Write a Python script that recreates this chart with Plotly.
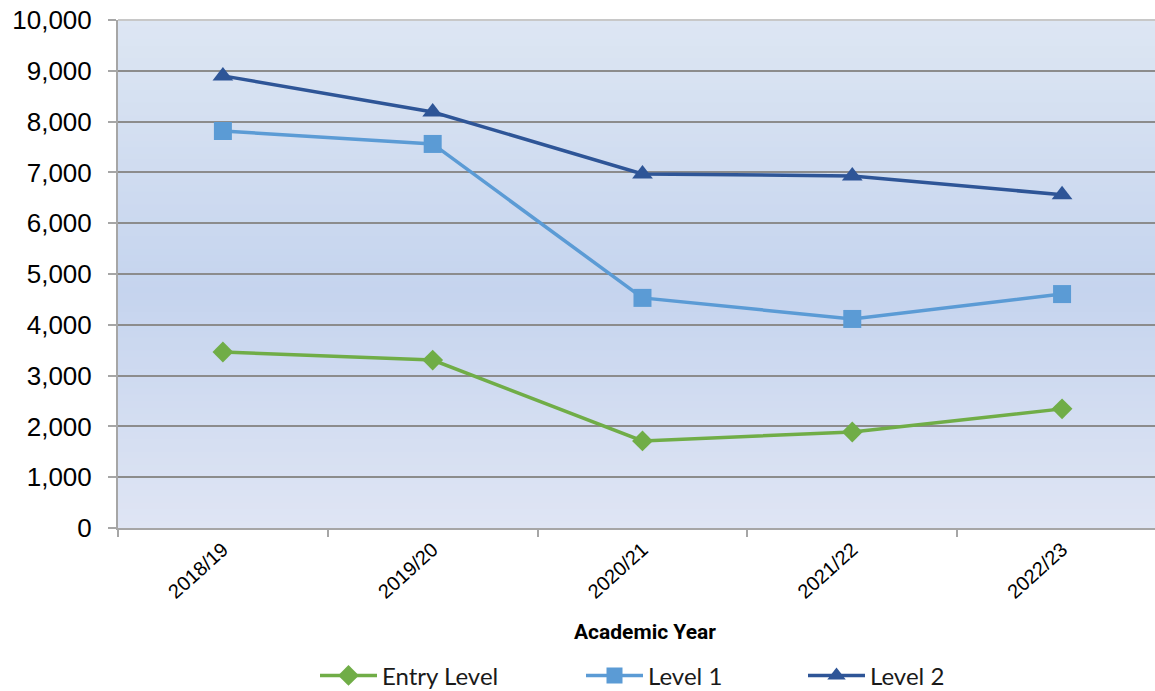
import plotly.graph_objects as go

years = ["2018/19", "2019/20", "2020/21", "2021/22", "2022/23"]
entry_level = [3465, 3305, 1715, 1890, 2345]
level_1 = [7815, 7560, 4530, 4115, 4605]
level_2 = [8900, 8190, 6970, 6930, 6560]
y_ticks = [0, 1000, 2000, 3000, 4000, 5000, 6000, 7000, 8000, 9000, 10000]

fig = go.Figure()
fig.add_trace(go.Scatter(x=years, y=entry_level, name="Entry Level", mode="lines+markers",
                         line=dict(color="#70ad47", width=3.5),
                         marker=dict(symbol="diamond", size=16, color="#70ad47"),
                         legend="legend"))
fig.add_trace(go.Scatter(x=years, y=level_1, name="Level 1", mode="lines+markers",
                         line=dict(color="#5b9bd5", width=3.5),
                         marker=dict(symbol="square", size=18, color="#5b9bd5"),
                         legend="legend2"))
fig.add_trace(go.Scatter(x=years, y=level_2, name="Level 2", mode="lines+markers",
                         line=dict(color="#2e5597", width=3.5),
                         marker=dict(symbol="triangle-up", size=18, color="#2e5597"),
                         legend="legend3"))

# vertical gradient background
def lerp(c1, c2, t):
    return tuple(int(round(a + (b - a) * t)) for a, b in zip(c1, c2))

top = (221, 230, 243)
mid = (197, 212, 238)
bot = (223, 229, 244)
n = 80
shapes = []
for i in range(n):
    y0 = i / n
    y1 = (i + 1) / n
    yc = (y0 + y1) / 2  # 0 bottom, 1 top
    mid_pos = 0.47
    if yc < mid_pos:
        c = lerp(bot, mid, yc / mid_pos)
    else:
        c = lerp(mid, top, (yc - mid_pos) / (1 - mid_pos))
    shapes.append(dict(type="rect", xref="paper", yref="paper", x0=0, x1=1, y0=y0, y1=y1 + 0.002,
                       fillcolor="rgb(%d,%d,%d)" % c, line=dict(width=0), layer="below"))
shapes.append(dict(type="line", xref="paper", yref="paper", x0=0, x1=1, y0=1, y1=1,
                   line=dict(color="#c8c8c8", width=2), layer="below"))

legend_font = dict(family="Lato, sans-serif", size=24, color="#1a1a1a")
# plot domain spans screen x 118..1155 (1037 px)
common_leg = dict(orientation="h", yanchor="middle", xanchor="left", y=-0.291,
                  font=legend_font, bgcolor="rgba(0,0,0,0)", itemwidth=57)

fig.update_layout(
    width=1155, height=691,
    margin=dict(l=118, r=0, t=20, b=163, autoexpand=False),
    paper_bgcolor="white",
    plot_bgcolor="rgba(0,0,0,0)",
    shapes=shapes,
    showlegend=True,
    legend=dict(x=(321 - 6 - 118) / 1037, **common_leg),
    legend2=dict(x=(587 - 6 - 118) / 1037, **common_leg),
    legend3=dict(x=(809 - 6 - 118) / 1037, **common_leg),
    xaxis=dict(type="category", range=[-0.5, 4.443], showgrid=False,
               showline=True, linecolor="#a6a6a6", linewidth=2,
               ticks="outside", tickson="boundaries", ticklen=7, tickcolor="#a6a6a6", tickwidth=2,
               tickangle=-42, tickfont=dict(family="Liberation Sans, Arial, sans-serif", size=20, color="black"),
               automargin=False),
    yaxis=dict(range=[0, 10000], tickvals=y_ticks, tickformat=",d",
               showgrid=True, gridcolor="#8c8c8c", gridwidth=1.5,
               zeroline=False,
               showline=True, linecolor="#a6a6a6", linewidth=2,
               ticks="outside", ticklen=8, tickcolor="#a6a6a6", tickwidth=2,
               tickfont=dict(family="Liberation Sans, Arial, sans-serif", size=26, color="black"),
               ticklabelstandoff=11, ticklabeloverflow="allow", automargin=False),
    annotations=[dict(text="Academic Year", xref="paper", yref="paper", x=(645 - 118) / 1037, y=-0.205,
                      xanchor="center", yanchor="middle", showarrow=False,
                      font=dict(family="Roboto, sans-serif", size=21, weight=700, color="black"))],
)

fig.write_html("out.html", config={"displayModeBar": False},
               post_script="document.body.style.margin='0';document.body.style.overflow='hidden';")
